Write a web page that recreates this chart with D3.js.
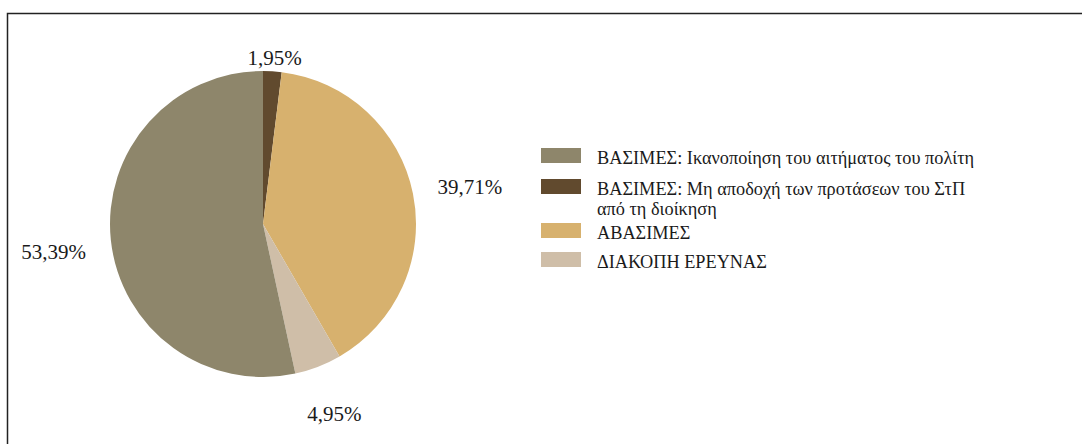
<!DOCTYPE html>
<html>
<head>
<meta charset="utf-8">
<script src="https://cdn.jsdelivr.net/npm/d3@7"></script>
<style>
  body { margin: 0; background: #fff; }
</style>
</head>
<body>
<div id="chart"></div>
<script>
// 1: DATA
const categories = [
    "ΒΑΣΙΜΕΣ: Μη αποδοχή των προτάσεων του ΣτΠ από τη διοίκηση",
    "ΑΒΑΣΙΜΕΣ",
    "ΔΙΑΚΟΠΗ ΕΡΕΥΝΑΣ",
    "ΒΑΣΙΜΕΣ: Ικανοποίηση του αιτήματος του πολίτη"
];
const values = [1.95, 39.71, 4.95, 53.39];
const valueLabels = ["1,95%", "39,71%", "4,95%", "53,39%"];
const colors = ["#614a2e", "#d7b16e", "#cfbea8", "#8e866b"];

// legend order and its wrapped lines
const legendOrder = [3, 0, 1, 2];
const legendLines = [
    ["ΒΑΣΙΜΕΣ: Ικανοποίηση του αιτήματος του πολίτη"],
    ["ΒΑΣΙΜΕΣ: Μη αποδοχή των προτάσεων του ΣτΠ", "από τη διοίκηση"],
    ["ΑΒΑΣΙΜΕΣ"],
    ["ΔΙΑΚΟΠΗ ΕΡΕΥΝΑΣ"]
];

const FONT = "Liberation Serif";

// 2: SVG
const W = 1082, H = 444;
const svg = d3.select("#chart").append("svg")
    .attr("width", W)
    .attr("height", H);

// chart frame
svg.append("rect")
    .attr("x", 7.5)
    .attr("y", 13.5)
    .attr("width", W + 20)
    .attr("height", H + 20)
    .attr("fill", "none")
    .attr("stroke", "#222")
    .attr("stroke-width", 1.5);

// 3: PIE
const cx = 263, cy = 224, radius = 153;
const pie = d3.pie().sort(null).value(d => d);
const arcs = pie(values);
const arc = d3.arc().innerRadius(0).outerRadius(radius);

const g = svg.append("g").attr("transform", `translate(${cx},${cy})`);
g.selectAll("path")
    .data(arcs)
    .enter()
    .append("path")
    .attr("d", arc)
    .attr("fill", (d, i) => colors[i]);

// 4: VALUE LABELS (outside the pie, box kept inside plot area)
const labelSize = 21;
const gap = 24;
const labels = g.selectAll(".val")
    .data(arcs)
    .enter()
    .append("text")
    .attr("class", "val")
    .style("font-family", FONT)
    .style("fill", "#1a1a1a")
    .style("font-size", labelSize + "px")
    .attr("text-anchor", "middle")
    .text((d, i) => valueLabels[i]);

labels.each(function(d) {
    const bb = this.getBBox();
    const a = (d.startAngle + d.endAngle) / 2;
    const s = Math.sin(a), c = -Math.cos(a);
    const ext = Math.abs(s) * bb.width / 2 + Math.abs(c) * bb.height / 2;
    const rl = radius + gap + ext;
    let x = rl * s, y = rl * c + 5;
    // keep label box below the plot area top
    const minY = 46 - cy + bb.height / 2;
    if (y < minY) y = minY;
    d3.select(this)
        .attr("x", x)
        .attr("y", y)
        .attr("dy", "0.35em");
});

// 5: LEGEND
const legend = svg.append("g").attr("transform", "translate(541,148)");
const rowY = [0, 31, 75, 104];
const items = legend.selectAll(".item")
    .data(legendOrder)
    .enter()
    .append("g")
    .attr("class", "item")
    .attr("transform", (d, i) => `translate(0,${rowY[i]})`);

items.append("rect")
    .attr("width", 40)
    .attr("height", 15)
    .attr("fill", d => colors[d]);

items.each(function(d, i) {
    const t = d3.select(this).append("text")
        .attr("x", 56)
        .attr("y", 15.5)
        .style("font-family", FONT)
        .style("fill", "#1a1a1a")
        .style("font-size", "18.3px");
    legendLines[i].forEach((line, j) => {
        t.append("tspan")
            .attr("x", 56)
            .attr("dy", j === 0 ? 0 : 20)
            .text(line);
    });
});
</script>
</body>
</html>
